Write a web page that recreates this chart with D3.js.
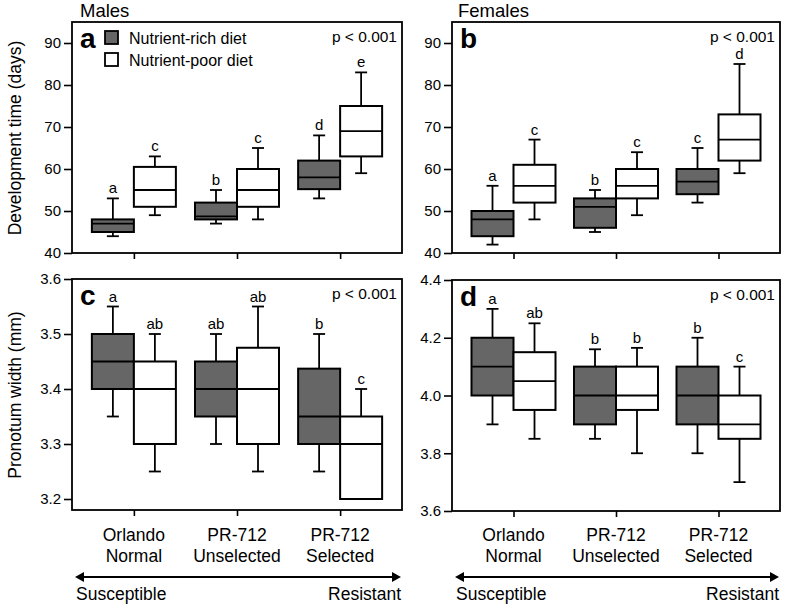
<!DOCTYPE html>
<html>
<head>
<meta charset="utf-8">
<script src="https://cdn.jsdelivr.net/npm/d3@7"></script>
<style>
  body { margin: 0; background: #fff; }
  svg { font-family: "Liberation Sans", Arial, sans-serif; }
</style>
</head>
<body>
<div id="chart"></div>
<script>
// categories
const groupLine1 = ["Orlando", "PR-712", "PR-712"];
const groupLine2 = ["Normal", "Unselected", "Selected"];
const groups = ["Orlando Normal", "PR-712 Unselected", "PR-712 Selected"];
const diets = ["Nutrient-rich diet", "Nutrient-poor diet"];

// box stats: [whisker low, q1, median, q3, whisker high]
const maleDevRich = [[44, 45, 47, 48, 53], [47, 48, 48.7, 52, 55], [53, 55.2, 58, 62, 68]];
const maleDevPoor = [[49, 51, 55, 60.5, 63], [48, 51, 55, 60, 65], [59, 63, 69, 75, 83]];
const maleDevLettersRich = ["a", "b", "d"];
const maleDevLettersPoor = ["c", "c", "e"];

const femaleDevRich = [[42, 44, 48, 50, 56], [45, 46, 51, 53, 55], [52, 54, 57, 60, 65]];
const femaleDevPoor = [[48, 52, 56, 61, 67], [49, 53, 56, 60, 64], [59, 62, 67, 73, 85]];
const femaleDevLettersRich = ["a", "b", "c"];
const femaleDevLettersPoor = ["c", "c", "d"];

const malePronRich = [[3.35, 3.4, 3.45, 3.5, 3.55], [3.3, 3.35, 3.4, 3.45, 3.5], [3.25, 3.3, 3.35, 3.437, 3.5]];
const malePronPoor = [[3.25, 3.3, 3.4, 3.45, 3.5], [3.25, 3.3, 3.4, 3.475, 3.55], [3.2, 3.2, 3.3, 3.35, 3.4]];
const malePronLettersRich = ["a", "ab", "b"];
const malePronLettersPoor = ["ab", "ab", "c"];

const femalePronRich = [[3.9, 4.0, 4.1, 4.2, 4.3], [3.85, 3.9, 4.0, 4.1, 4.16], [3.8, 3.9, 4.0, 4.1, 4.2]];
const femalePronPoor = [[3.85, 3.95, 4.05, 4.15, 4.25], [3.8, 3.95, 4.0, 4.1, 4.165], [3.7, 3.85, 3.9, 4.0, 4.1]];
const femalePronLettersRich = ["a", "b", "b"];
const femalePronLettersPoor = ["ab", "b", "c"];

// tick values
const devTicks = [40, 50, 60, 70, 80, 90];
const malePronTicks = [3.2, 3.3, 3.4, 3.5, 3.6];
const femalePronTicks = [3.6, 3.8, 4.0, 4.2, 4.4];

const richFill = "#666666";
const poorFill = "#ffffff";

const width = 787, height = 607;

const svg = d3.select("#chart")
    .append("svg")
    .attr("width", width)
    .attr("height", height);

const panels = [
    { id: "a", x0: 72, x1: 402, y0: 22, y1: 253, domain: [40, 95], ticks: devTicks, fmt: d3.format("d"),
      rich: maleDevRich, poor: maleDevPoor, lr: maleDevLettersRich, lp: maleDevLettersPoor, bottom: false },
    { id: "b", x0: 452, x1: 780, y0: 22, y1: 253, domain: [40, 95], ticks: devTicks, fmt: d3.format("d"),
      rich: femaleDevRich, poor: femaleDevPoor, lr: femaleDevLettersRich, lp: femaleDevLettersPoor, bottom: false },
    { id: "c", x0: 72, x1: 402, y0: 279, y1: 510, domain: [3.18, 3.6], ticks: malePronTicks, fmt: d3.format(".1f"),
      rich: malePronRich, poor: malePronPoor, lr: malePronLettersRich, lp: malePronLettersPoor, bottom: true },
    { id: "d", x0: 452, x1: 780, y0: 280, y1: 511, domain: [3.6, 4.4], ticks: femalePronTicks, fmt: d3.format(".1f"),
      rich: femalePronRich, poor: femalePronPoor, lr: femalePronLettersRich, lp: femalePronLettersPoor, bottom: true }
];

const boxW = 42, capW = 12;

panels.forEach(p => {
    const x = d3.scalePoint().domain(groups).range([p.x0, p.x1]).padding(0.6);
    const y = d3.scaleLinear().domain(p.domain).range([p.y1, p.y0]);
    const g = svg.append("g");

    // y axis
    const yAxis = g.append("g")
        .attr("transform", `translate(${p.x0},0)`)
        .call(d3.axisLeft(y).tickValues(p.ticks).tickFormat(p.fmt).tickSize(8).tickPadding(3));
    yAxis.select(".domain").remove();
    yAxis.selectAll("line").attr("stroke", "#000").attr("stroke-width", 1.6);
    yAxis.selectAll("text").attr("font-size", 15).attr("fill", "#000")
        .attr("font-family", "'Liberation Sans', Arial, sans-serif");

    // x axis ticks
    const xAxis = g.append("g")
        .attr("transform", `translate(0,${p.y1})`)
        .call(d3.axisBottom(x).tickSize(6).tickFormat(""));
    xAxis.select(".domain").remove();
    xAxis.selectAll("line").attr("stroke", "#000").attr("stroke-width", 1.6);

    // frame
    g.append("rect")
        .attr("x", p.x0).attr("y", p.y0)
        .attr("width", p.x1 - p.x0).attr("height", p.y1 - p.y0)
        .attr("fill", "none").attr("stroke", "#000").attr("stroke-width", 1.8);

    const series = [
        { data: p.rich, letters: p.lr, fill: richFill, off: -boxW },
        { data: p.poor, letters: p.lp, fill: poorFill, off: 0 }
    ];

    series.forEach(s => {
        const bx = g.append("g").selectAll("g")
            .data(s.data.map((d, i) => ({ stats: d, group: groups[i], letter: s.letters[i] })))
            .join("g");

        const cx = d => x(d.group) + s.off + boxW / 2;

        // whiskers
        bx.append("line")
            .attr("x1", cx).attr("x2", cx)
            .attr("y1", d => y(d.stats[0])).attr("y2", d => y(d.stats[4]))
            .attr("stroke", "#000").attr("stroke-width", 1.8);
        bx.append("line")
            .attr("x1", d => cx(d) - capW / 2).attr("x2", d => cx(d) + capW / 2)
            .attr("y1", d => y(d.stats[4])).attr("y2", d => y(d.stats[4]))
            .attr("stroke", "#000").attr("stroke-width", 1.8);
        bx.append("line")
            .attr("x1", d => cx(d) - capW / 2).attr("x2", d => cx(d) + capW / 2)
            .attr("y1", d => y(d.stats[0])).attr("y2", d => y(d.stats[0]))
            .attr("stroke", "#000").attr("stroke-width", 1.8);

        // box
        bx.append("rect")
            .attr("x", d => x(d.group) + s.off)
            .attr("y", d => y(d.stats[3]))
            .attr("width", boxW)
            .attr("height", d => y(d.stats[1]) - y(d.stats[3]))
            .attr("fill", s.fill).attr("stroke", "#000").attr("stroke-width", 2);

        // median
        bx.append("line")
            .attr("x1", d => x(d.group) + s.off).attr("x2", d => x(d.group) + s.off + boxW)
            .attr("y1", d => y(d.stats[2])).attr("y2", d => y(d.stats[2]))
            .attr("stroke", "#000").attr("stroke-width", 1.8);

        // significance letters
        bx.append("text")
            .attr("x", cx)
            .attr("y", d => y(d.stats[4]) - 5)
            .attr("text-anchor", "middle")
            .attr("font-size", 15)
            .text(d => d.letter);
    });

    // panel letter
    g.append("text")
        .attr("x", p.x0 + 8).attr("y", p.y0 + 26)
        .attr("font-size", 28).attr("font-weight", "bold")
        .text(p.id);

    // p value
    g.append("text")
        .attr("x", p.x1 - 5).attr("y", p.y0 + 20)
        .attr("text-anchor", "end")
        .attr("font-size", 15.5)
        .text("p < 0.001");

    if (p.bottom) {
        const lab = g.append("g").selectAll("text")
            .data(groups)
            .join("text")
            .attr("text-anchor", "middle")
            .attr("font-size", 17.5);
        lab.append("tspan").attr("x", d => x(d)).attr("y", 541).text((d, i) => groupLine1[i]);
        lab.append("tspan").attr("x", d => x(d)).attr("y", 562).text((d, i) => groupLine2[i]);

        // susceptibility arrow
        const ay = 577, ax0 = p.x0 + 3, ax1 = p.x1 - 1;
        g.append("line")
            .attr("x1", ax0 + 6).attr("x2", ax1 - 6)
            .attr("y1", ay).attr("y2", ay)
            .attr("stroke", "#000").attr("stroke-width", 2);
        g.append("path")
            .attr("d", `M${ax0},${ay} l9,-5 l0,10 Z`).attr("fill", "#000");
        g.append("path")
            .attr("d", `M${ax1},${ay} l-9,-5 l0,10 Z`).attr("fill", "#000");
        g.append("text")
            .attr("x", ax0 + 1).attr("y", 600)
            .attr("font-size", 17.5)
            .text("Susceptible");
        g.append("text")
            .attr("x", ax1).attr("y", 600)
            .attr("text-anchor", "end")
            .attr("font-size", 17.5)
            .text("Resistant");
    }
});

// sex titles
svg.append("text").attr("x", 80).attr("y", 17).attr("font-size", 18.5).text("Males");
svg.append("text").attr("x", 458).attr("y", 17).attr("font-size", 18.5).text("Females");

// y axis titles
svg.append("text")
    .attr("transform", "translate(21,138) rotate(-90)")
    .attr("text-anchor", "middle")
    .attr("font-size", 17.5)
    .text("Development time (days)");
svg.append("text")
    .attr("transform", "translate(21,395) rotate(-90)")
    .attr("text-anchor", "middle")
    .attr("font-size", 17.5)
    .text("Pronotum width (mm)");

// legend
const legend = svg.append("g").selectAll("g")
    .data(diets)
    .join("g")
    .attr("transform", (d, i) => `translate(105,${31 + i * 22})`);
legend.append("rect")
    .attr("width", 13).attr("height", 13)
    .attr("fill", (d, i) => i === 0 ? richFill : poorFill)
    .attr("stroke", "#000").attr("stroke-width", 1.8);
legend.append("text")
    .attr("x", 24).attr("y", 13)
    .attr("font-size", 16)
    .text(d => d);
</script>
</body>
</html>
